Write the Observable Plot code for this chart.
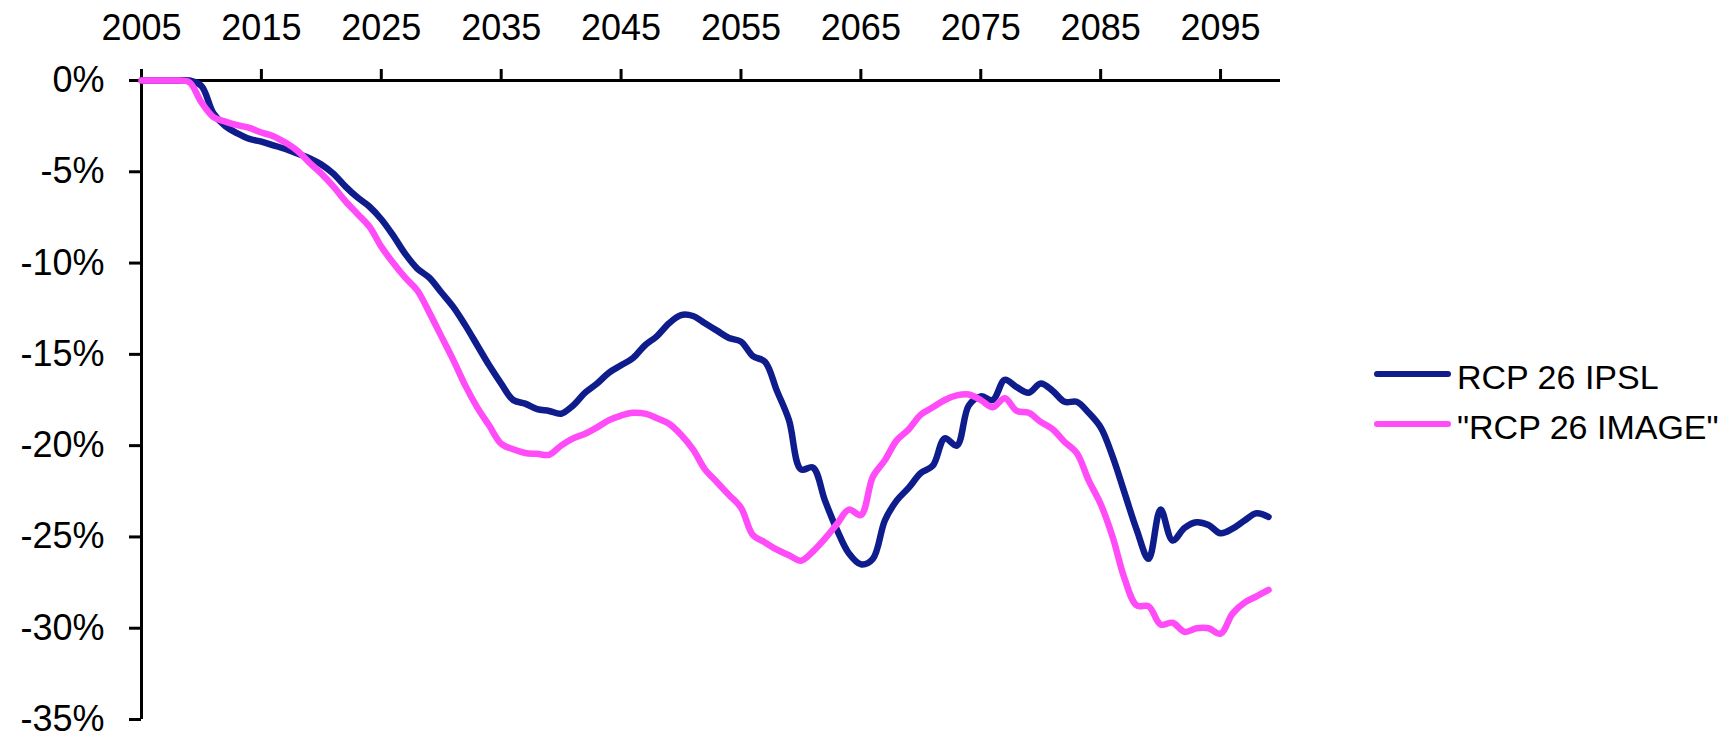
<!DOCTYPE html>
<html>
<head>
<meta charset="utf-8">
<script src="https://cdn.jsdelivr.net/npm/d3@7"></script>
<script src="https://cdn.jsdelivr.net/npm/@observablehq/plot@0.6"></script>
<style>
  body { margin: 0; background: #fff; font-family: "Liberation Sans", Arial, sans-serif; }
  #wrap { position: relative; width: 1735px; height: 741px; overflow: hidden; }
  #legend { position: absolute; left: 1374px; top: 352px; font-size: 34px; color: #000; }
  .item { display: flex; align-items: center; height: 50px; white-space: nowrap; }
  .sw { width: 77px; height: 6px; border-radius: 3px; margin-right: 6px; margin-top: -6px; }
</style>
</head>
<body>
<div id="wrap"><div id="chart"></div><div id="legend"></div></div>
<script>
const years = d3.range(2005, 2100);
const seriesNames = ["RCP 26 IPSL", "\"RCP 26 IMAGE\""];
const colors = ["#0f1c8c", "#ff4cf8"];
const xTicks = [2005, 2015, 2025, 2035, 2045, 2055, 2065, 2075, 2085, 2095];
const yTicks = [0, -5, -10, -15, -20, -25, -30, -35];

const ipsl = [
  0, 0, 0, 0, 0,
  -0.3, -1.8, -2.5, -2.9, -3.2,
  -3.35, -3.55, -3.75, -4.0, -4.25,
  -4.6, -5.1, -5.8, -6.4, -6.9,
  -7.6, -8.5, -9.5, -10.3, -10.8,
  -11.6, -12.4, -13.4, -14.5, -15.6,
  -16.6, -17.5, -17.7, -18.0, -18.1,
  -18.25, -17.8, -17.1, -16.6, -16.0,
  -15.6, -15.2, -14.5, -14.0, -13.3,
  -12.85, -12.9, -13.3, -13.7, -14.1,
  -14.3, -15.1, -15.4, -17.0, -18.6,
  -21.3, -21.2, -23.0, -24.6, -25.9,
  -26.5, -26.2, -24.1, -23.0, -22.3,
  -21.5, -21.1, -19.6, -20.0, -17.8,
  -17.3, -17.5, -16.4, -16.8, -17.1,
  -16.6, -17.0, -17.6, -17.6, -18.2,
  -19.0, -20.6, -22.6, -24.6, -26.2,
  -23.5, -25.2, -24.5, -24.2, -24.35,
  -24.8, -24.55, -24.1, -23.7, -23.9
];

const image = [
  0, 0, 0, 0, -0.1,
  -1.2, -2.0, -2.25, -2.45, -2.6,
  -2.85, -3.05, -3.4, -3.85, -4.5,
  -5.1, -5.8, -6.6, -7.3, -8.0,
  -9.1, -10.0, -10.8, -11.5, -12.7,
  -14.0, -15.3, -16.7, -17.9, -18.9,
  -19.9, -20.2, -20.4, -20.45, -20.5,
  -20.0, -19.6, -19.35, -19.0, -18.6,
  -18.35, -18.2, -18.25, -18.5, -18.8,
  -19.4, -20.2, -21.3, -22.0, -22.7,
  -23.4, -24.9, -25.3, -25.7, -26.0,
  -26.3, -25.8, -25.1, -24.3, -23.5,
  -23.8, -21.7, -20.8, -19.7, -19.1,
  -18.3, -17.9, -17.5, -17.25, -17.2,
  -17.5, -17.9, -17.4, -18.1, -18.2,
  -18.7, -19.1, -19.8, -20.4, -21.9,
  -23.2, -25.0, -27.3, -28.75, -28.8,
  -29.8, -29.7, -30.2, -30.0, -30.0,
  -30.3, -29.2, -28.6, -28.25, -27.9
];

const table = [];
[ipsl, image].forEach((vals, i) => {
  years.forEach((yr, j) => table.push({year: yr, value: vals[j], series: seriesNames[i]}));
});

const chart = Plot.plot({
  width: 1300,
  height: 741,
  marginLeft: 141,
  marginRight: 20,
  marginTop: 80,
  marginBottom: 22,
  style: {fontFamily: "Liberation Sans, Arial, sans-serif", fontSize: "36px", color: "#000", background: "#fff", overflow: "visible"},
  x: {domain: [2005, 2100]},
  y: {domain: [-35, 0]},
  color: {domain: seriesNames, range: colors},
  marks: [
    Plot.axisX(xTicks, {anchor: "top", tickSize: 12, tickPadding: 29, tickFormat: d => String(d), strokeWidth: 3, fontSize: 36, label: null}),
    Plot.axisY(yTicks, {anchor: "left", tickSize: 12, tickPadding: 25, tickFormat: d => d + "%", strokeWidth: 3, fontSize: 36, label: null}),
    Plot.ruleY([0], {strokeWidth: 3, stroke: "#000"}),
    Plot.ruleX([2005], {strokeWidth: 3, stroke: "#000"}),
    Plot.line(table, {x: "year", y: "value", z: "series", stroke: "series", strokeWidth: 6.5, curve: "catmull-rom", strokeLinejoin: "round", strokeLinecap: "round"})
  ]
});
document.getElementById("chart").appendChild(chart);

const legend = document.getElementById("legend");
seriesNames.forEach((name, i) => {
  const item = document.createElement("div");
  item.className = "item";
  const sw = document.createElement("div");
  sw.className = "sw";
  sw.style.background = colors[i];
  const label = document.createElement("span");
  label.textContent = name;
  item.appendChild(sw);
  item.appendChild(label);
  legend.appendChild(item);
});
</script>
</body>
</html>
